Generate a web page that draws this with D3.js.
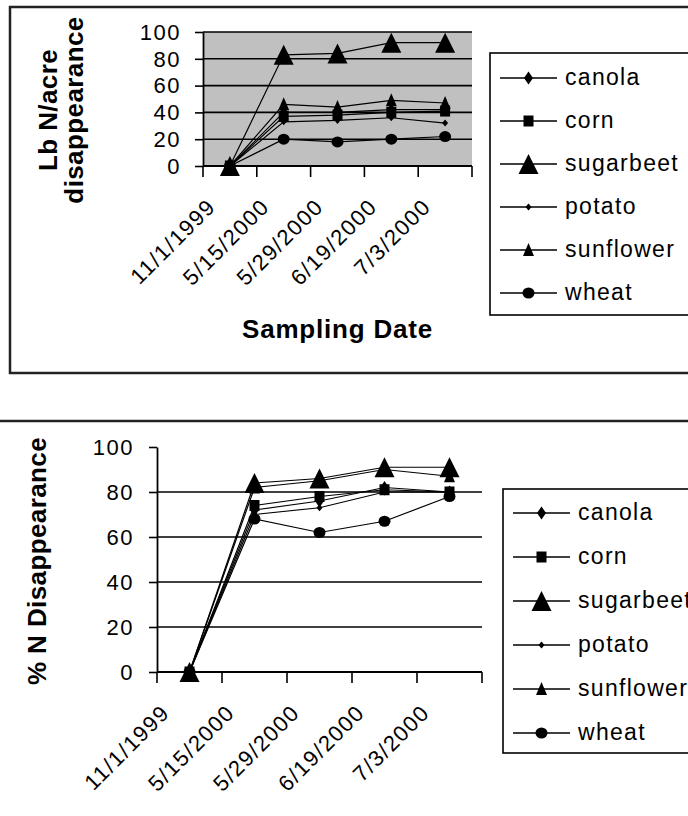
<!DOCTYPE html>
<html>
<head>
<meta charset="utf-8">
<script src="https://cdn.jsdelivr.net/npm/d3@7"></script>
<style>
  html, body { margin: 0; padding: 0; background: #fff; }
  svg { display: block; }
  text { font-family: "Liberation Sans", Arial, sans-serif; fill: #000; }
</style>
</head>
<body>
<svg id="chart" width="688" height="816"></svg>
<script>
// Sampling dates (category axis)
const dates = ["11/1/1999", "5/15/2000", "5/29/2000", "6/19/2000", "7/3/2000"];
const crops = ["canola", "corn", "sugarbeet", "potato", "sunflower", "wheat"];
const yTicks = [0, 20, 40, 60, 80, 100];

// Lb N/acre disappearance by crop
const lbCanola    = [0, 40, 40, 42, 42];
const lbCorn      = [0, 37, 38, 40, 41];
const lbSugarbeet = [0, 83, 84, 92, 92];
const lbPotato    = [0, 33, 34, 36, 32];
const lbSunflower = [0, 46, 44, 49, 47];
const lbWheat     = [0, 20, 18, 20, 22];

// % N disappearance by crop
const pctCanola    = [0, 72, 76, 82, 80];
const pctCorn      = [0, 74, 78, 81, 80];
const pctSugarbeet = [0, 84, 86, 91, 91];
const pctPotato    = [0, 70, 73, 80, 80];
const pctSunflower = [0, 82, 85, 90, 87];
const pctWheat     = [0, 68, 62, 67, 78];

const lbSeries  = [lbCanola, lbCorn, lbSugarbeet, lbPotato, lbSunflower, lbWheat];
const pctSeries = [pctCanola, pctCorn, pctSugarbeet, pctPotato, pctSunflower, pctWheat];

// Marker shapes, keyed by crop
function markerPath(kind) {
  switch (kind) {
    case "canola":    return "M0,-6.5L4.5,0L0,6.5L-4.5,0Z";
    case "corn":      return "M-5,-5.5H5V5.5H-5Z";
    case "sugarbeet": return "M0,-10L10,10H-10Z";
    case "potato":    return "M0,-3.5L3,0L0,3.5L-3,0Z";
    case "sunflower": return "M0,-7L5.5,6H-5.5Z";
    case "wheat":     return "M-6,0A6,5.5 0 1,0 6,0A6,5.5 0 1,0 -6,0Z";
  }
}

const svg = d3.select("#chart");
const FONT_TICK = 22, FONT_TITLE = 26, FONT_LEG = 23;

function drawChart(cfg) {
  const g = svg.append("g");

  // outer frame
  g.append("rect")
    .attr("x", cfg.frame[0]).attr("y", cfg.frame[1])
    .attr("width", cfg.frame[2]).attr("height", cfg.frame[3])
    .attr("fill", "none").attr("stroke", "#222").attr("stroke-width", 2.5);

  const x = d3.scaleBand().domain(dates).range([cfg.left, cfg.right]).padding(0);
  const y = d3.scaleLinear().domain([0, 100]).range([cfg.bottom, cfg.top]);
  const cx = d => x(d) + x.bandwidth() / 2;

  if (cfg.shade) {
    g.append("rect")
      .attr("x", cfg.left).attr("y", y(100))
      .attr("width", cfg.right - cfg.left).attr("height", y(0) - y(100))
      .attr("fill", "#c0c0c0");
  }

  // horizontal gridlines
  g.selectAll(".grid").data(yTicks.filter(v => v > 0 && (cfg.gridTop || v < 100)))
    .join("line")
    .attr("x1", cfg.left).attr("x2", cfg.right)
    .attr("y1", d => y(d)).attr("y2", d => y(d))
    .attr("stroke", "#000").attr("stroke-width", 1.6);

  // y axis
  const yAxis = d3.axisLeft(y).tickValues(yTicks).tickSize(8).tickSizeOuter(0).tickFormat(d3.format("d"));
  const ya = g.append("g").attr("transform", `translate(${cfg.left},0)`).call(yAxis);
  ya.select(".domain").attr("stroke", "#000").attr("stroke-width", 1.8);
  ya.selectAll(".tick line").attr("stroke", "#000").attr("stroke-width", 1.6);
  ya.selectAll(".tick text")
    .attr("x", -cfg.tickGap).attr("dy", "0.33em")
    .style("font-size", FONT_TICK + "px").style("letter-spacing", "1.5px")
    .style("font-family", "'Liberation Sans', Arial, sans-serif");

  // x axis: line plus tick marks at category boundaries
  g.append("line")
    .attr("x1", cfg.left).attr("x2", cfg.right)
    .attr("y1", y(0)).attr("y2", y(0))
    .attr("stroke", "#000").attr("stroke-width", 1.8);
  const bounds = dates.map(d => x(d)).concat([cfg.right]);
  g.selectAll(".xtick").data(bounds).join("line")
    .attr("x1", d => d).attr("x2", d => d)
    .attr("y1", y(0)).attr("y2", y(0) + 11)
    .attr("stroke", "#000").attr("stroke-width", 1.6);
  g.selectAll(".xlab").data(dates).join("text")
    .attr("transform", d => `translate(${x(d) + 14},${y(0) + 42}) rotate(-45)`)
    .attr("text-anchor", "end")
    .style("font-size", FONT_TICK + "px").style("letter-spacing", "1.5px")
    .text(d => d);

  // series lines and markers
  const line = d3.line().x((v, i) => cx(dates[i])).y(v => y(v));
  cfg.series.forEach((vals, k) => {
    g.append("path").attr("d", line(vals))
      .attr("fill", "none").attr("stroke", "#000").attr("stroke-width", 1.2);
    g.selectAll(null).data(vals).join("path")
      .attr("transform", (v, i) => `translate(${cx(dates[i])},${y(v)})`)
      .attr("d", markerPath(crops[k])).attr("fill", "#000");
  });

  // axis titles
  cfg.yTitle.forEach((t, i) => {
    g.append("text")
      .attr("transform", `translate(${cfg.yTitleX[i]},${cfg.yTitleY}) rotate(-90)`)
      .attr("text-anchor", "middle")
      .style("font-size", FONT_TITLE + "px").style("font-weight", "bold")
      .style("letter-spacing", "0.4px")
      .text(t);
  });
  if (cfg.xTitle) {
    g.append("text")
      .attr("x", (cfg.left + cfg.right) / 2).attr("y", cfg.xTitleY)
      .attr("text-anchor", "middle")
      .style("font-size", FONT_TITLE + "px").style("font-weight", "bold")
      .style("letter-spacing", "0.8px")
      .text(cfg.xTitle);
  }

  // legend
  const L = cfg.legend;
  g.append("rect")
    .attr("x", L.x).attr("y", L.y).attr("width", L.w).attr("height", L.h)
    .attr("fill", "#fff").attr("stroke", "#000").attr("stroke-width", 1.6);
  crops.forEach((c, k) => {
    const ey = L.y0 + k * L.step;
    g.append("line")
      .attr("x1", L.lx1).attr("x2", L.lx2).attr("y1", ey).attr("y2", ey)
      .attr("stroke", "#000").attr("stroke-width", 1.6);
    g.append("path")
      .attr("transform", `translate(${(L.lx1 + L.lx2) / 2},${ey})`)
      .attr("d", markerPath(c)).attr("fill", "#000");
    g.append("text")
      .attr("x", L.tx).attr("y", ey + 7)
      .style("font-size", FONT_LEG + "px").style("letter-spacing", "1.3px")
      .text(c);
  });
}

// Lb N/acre chart
drawChart({
  frame: [10, 7, 700, 366],
  left: 203, right: 472, top: 32, bottom: 166,
  shade: true, gridTop: true, tickGap: 22,
  series: lbSeries,
  yTitle: ["Lb N/acre", "disappearance"], yTitleX: [57, 83], yTitleY: 110,
  xTitle: "Sampling Date", xTitleY: 338,
  legend: { x: 490, y: 53, w: 220, h: 262, y0: 78, step: 43, lx1: 500, lx2: 557, tx: 565 }
});

// % N chart
drawChart({
  frame: [-10, 421, 720, 420],
  left: 157, right: 482, top: 447, bottom: 672,
  shade: false, gridTop: false, tickGap: 23,
  series: pctSeries,
  yTitle: ["% N Disappearance"], yTitleX: [46], yTitleY: 561,
  xTitle: null,
  legend: { x: 503, y: 489, w: 220, h: 264, y0: 513, step: 44, lx1: 513, lx2: 570, tx: 578 }
});
</script>
</body>
</html>
